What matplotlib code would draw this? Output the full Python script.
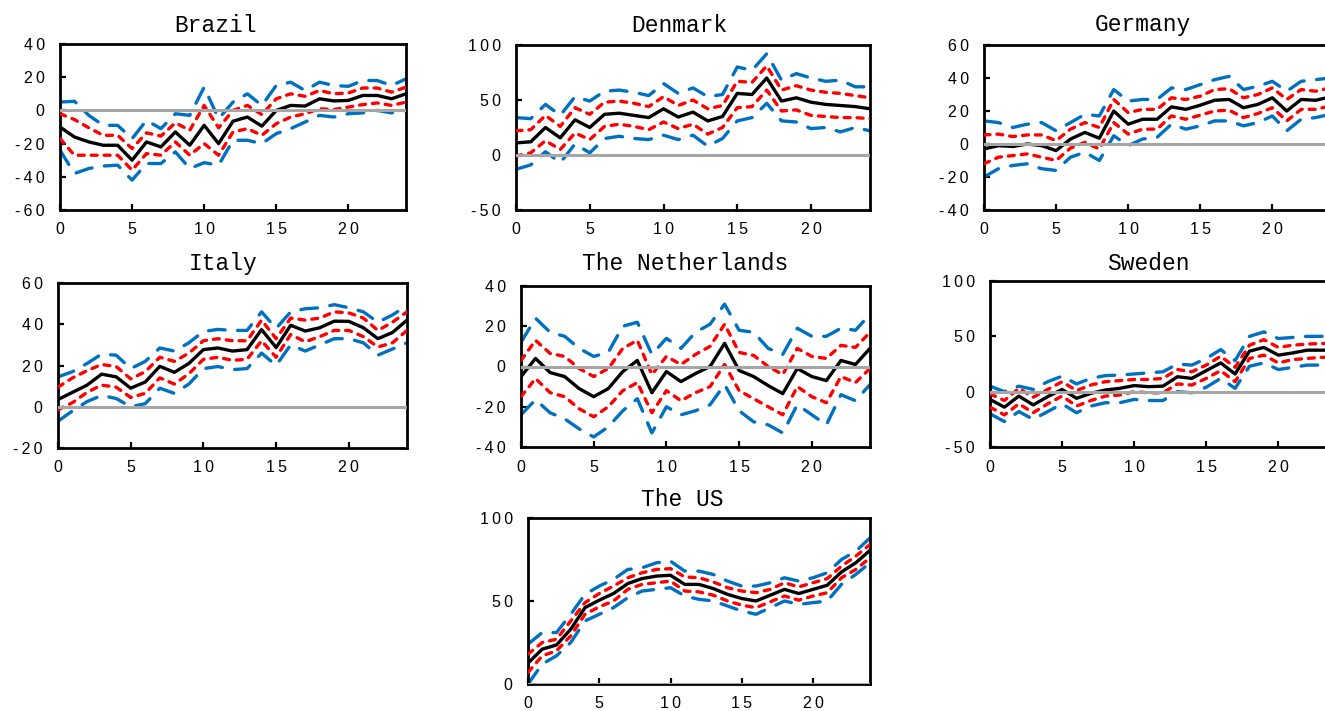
import matplotlib
matplotlib.use("Agg")
import matplotlib.pyplot as plt
import numpy as np

plt.rcParams['lines.scale_dashes'] = False

horizon = list(range(25))
x_ticks = [0, 5, 10, 15, 20]

# ---------------- data ----------------
brazil_mid = [-10, -16, -19, -21, -21, -30, -19, -22, -13, -21, -9, -20, -6.5, -4, -9.5, 0, 3, 2.6, 7, 5.7, 6, 9, 9, 7, 10]
brazil_up68 = [-2, -5.5, -10.5, -15, -15, -23, -13.5, -15.5, -7.5, -12, 3, -10.5, 0, 3, -2.5, 7, 10, 8.5, 12, 10, 10.5, 13.5, 13.5, 11, 14]
brazil_lo68 = [-17, -27, -27, -27, -27, -36, -26, -27, -19, -27, -20, -27, -13, -11, -15, -8, -4, -2, 1, 0.5, 2, 3.5, 4.5, 3, 5]
brazil_up95 = [5, 5.5, -3, -9, -9, -17, -6, -11, -2, -3, 14, -5, 5, 10, 3, 15, 17, 12, 17, 15, 14.5, 18, 18, 15, 19]
brazil_lo95 = [-24, -38, -35, -33.5, -33, -42, -32, -32, -25, -35, -31.5, -33, -18, -18, -20, -14, -11, -7, -3, -4, -2, -1.5, 0, -1.5, 0]

denmark_mid = [11, 12, 25, 15.6, 32, 25, 37, 38, 36, 34, 42, 34.5, 39, 31, 35, 56, 55, 70, 49, 52, 48, 46, 45, 44, 42]
denmark_up68 = [22, 23, 36, 26, 43, 37, 48, 49, 47, 44, 53, 45, 50, 42, 45, 67, 66, 81, 59, 63, 59, 57, 56, 54, 52]
denmark_lo68 = [-1, 2, 13, 5, 20, 14, 26, 28, 26, 23, 30, 24, 28, 19, 25, 43, 44, 59, 40, 41, 36, 35, 34, 34, 33]
denmark_up95 = [34, 33, 46, 36, 53, 49, 58, 59, 57, 54, 65, 56, 61, 53, 55, 80, 77, 92, 68, 74, 70, 67, 68, 62, 62]
denmark_lo95 = [-13, -9, 3, -7, 10, 2, 15, 17, 15, 14, 18, 14, 18, 8, 15, 31, 34, 47, 31, 30, 24, 25, 21, 25, 22]

germany_mid = [-3, -1, -1.5, 0, -1, -4, 3, 7, 3.5, 20, 12, 15, 15, 22.5, 21, 23.5, 26.5, 27, 22, 24, 28, 20, 27, 26.5, 28.5]
germany_up68 = [5.5, 6, 4.5, 5.5, 5.5, 2, 9, 13, 10, 27, 19, 21, 21, 28, 27, 29, 33, 33.5, 28, 30, 34, 27, 33, 32, 34]
germany_lo68 = [-12, -8, -7, -6, -8, -10, -2.5, 1, -3, 13, 6, 9, 9, 17, 15, 17.5, 20, 20.5, 16, 18.5, 22, 14, 21, 21, 23]
germany_up95 = [14, 13, 10, 12, 13, 8, 13, 18, 17, 33, 26, 27, 27, 34, 33, 36, 39, 41, 33, 35, 38, 32, 38, 39, 40]
germany_lo95 = [-20, -15, -13, -12, -15, -16, -8, -5, -10, 5, -1, 3, 4, 12, 9, 11, 14, 14, 11, 13, 17, 8, 15, 16, 18]

italy_mid = [3.5, 7, 10.5, 15.8, 14.5, 9, 12, 19.6, 16.7, 21, 27.7, 28.5, 27, 27.7, 37.4, 28.7, 39.5, 36.7, 38.3, 41.5, 41.4, 38.3, 33, 36, 42]
italy_up68 = [9.5, 14, 17.5, 20.5, 19.5, 13.5, 17, 24, 22, 26, 32, 33, 32, 32, 42, 33, 43, 42, 43, 46, 45.5, 43, 37, 41, 46]
italy_lo68 = [-1.5, 2, 7, 10.5, 9.5, 4.5, 6.5, 14, 11, 16, 23, 24, 22.5, 23, 32, 24, 35, 31.5, 34, 37, 37, 34, 29, 31, 37]
italy_up95 = [14.5, 17, 21, 25.5, 25, 18.5, 22, 28.5, 27, 31, 36.5, 37.5, 37, 37, 46, 38, 46, 47.5, 48, 49.5, 48, 46, 41, 44.5, 49]
italy_lo95 = [-7, -2, 2.5, 5.5, 4, 0, 1.5, 9, 6.5, 11, 18.5, 19.5, 18, 18.5, 26, 20, 30, 27, 30, 33, 33, 31, 25, 28, 31]

nl_mid = [-5, 4, -3, -5, -11, -15, -11, -2.5, 3, -13, -2.5, -7.5, -3.5, 0, 11.5, -2, -5, -9.5, -13.5, -1, -5, -7, 3, 1, 9]
nl_up68 = [3, 13, 6.5, 5, -1, -5, -1, 9, 13, -4, 5, 1, 6, 10, 21, 7, 5.5, 0, -4, 9, 5, 4, 10.5, 9.5, 17]
nl_lo68 = [-15, -6, -13, -15, -21, -25, -20, -12, -8, -23, -12, -17, -13, -10, 1, -12, -16, -20, -24, -10, -15, -18, -5, -8, -1]
nl_up95 = [12, 24, 17, 15, 9, 5, 7, 20, 22, 6, 14, 9, 17, 21, 31, 18, 17, 9, 6, 19, 15, 15, 19, 18, 26]
nl_lo95 = [-24, -16.5, -23, -26, -31, -35, -30, -22, -16, -33, -20, -24, -22, -19, -9, -22, -27.5, -29, -33, -19, -24, -29, -14, -17, -9]

sweden_mid = [-7, -14, -4, -12, -4.5, 2, -6, -1.5, 1.5, 3, 5.5, 4.5, 5, 13.5, 12, 19, 26, 16, 36.6, 40, 33, 35, 37.5, 37.5, 37.5]
sweden_up68 = [-2, -8, 3, -5, 2, 9, 1, 6, 9, 10, 11, 11, 12, 20, 18, 24, 32, 22, 42, 47, 40, 42, 43, 43.5, 44]
sweden_lo68 = [-14, -21, -11, -19, -11, -4, -13, -8, -4, -3, 0, -1, -1, 7, 6, 12, 19, 9, 30, 33, 26, 29, 30, 31, 31]
sweden_up95 = [5, 0, 5, 2, 9, 14, 7, 12, 14.5, 15, 16, 17, 18, 25, 24, 30, 38, 28, 50, 54, 48, 49, 50, 50, 51]
sweden_lo95 = [-20, -27, -18, -25, -18, -11, -19, -13, -10, -10, -7, -8, -8, 0, -1, 4, 12, 3, 23, 26, 20, 22, 24, 24, 25]

us_mid = [12.6, 21, 23.5, 33, 46, 50.5, 54.5, 60.5, 63.5, 65, 65.5, 60, 60, 57.5, 54, 51.5, 50, 53.5, 57, 54.5, 57, 59.5, 67.5, 73, 80.5]
us_up68 = [18, 25, 27, 38, 49, 54.5, 59, 64, 67, 69, 69.5, 64.5, 64, 61.5, 58, 56, 55, 57, 61, 58.5, 61, 63.5, 71, 77, 84]
us_lo68 = [7, 17, 20, 29, 42, 46.5, 50, 57, 60, 61, 62, 56, 55.5, 53.5, 50, 47.5, 46, 49.5, 53, 50.5, 53, 55, 64, 69, 76]
us_up95 = [24, 31, 31, 42, 54, 59, 63, 69, 70, 73, 74, 68, 68, 66, 62, 59, 59, 61, 64, 62, 64, 67, 75, 80, 88]
us_lo95 = [0, 12, 17, 25, 38, 42, 46, 52, 56, 57, 58, 53, 51, 50, 47, 44, 42, 46, 50, 48, 49, 50, 60, 66, 73]

titles = ["Brazil", "Denmark", "Germany", "Italy", "The Netherlands", "Sweden", "The US"]
mids = [brazil_mid, denmark_mid, germany_mid, italy_mid, nl_mid, sweden_mid, us_mid]
up68 = [brazil_up68, denmark_up68, germany_up68, italy_up68, nl_up68, sweden_up68, us_up68]
lo68 = [brazil_lo68, denmark_lo68, germany_lo68, italy_lo68, nl_lo68, sweden_lo68, us_lo68]
up95 = [brazil_up95, denmark_up95, germany_up95, italy_up95, nl_up95, sweden_up95, us_up95]
lo95 = [brazil_lo95, denmark_lo95, germany_lo95, italy_lo95, nl_lo95, sweden_lo95, us_lo95]
y_ranges = [(-60, 40, 20), (-50, 100, 50), (-40, 60, 20), (-20, 60, 20), (-40, 40, 20), (-50, 100, 50), (0, 100, 50)]

# ---------------- layout (pixels) ----------------
W, H = 1325, 711
# left, right, top, bottom of plot areas
boxes = [(60, 406, 44, 210), (516, 870, 45, 210), (984, 1330, 45, 210),
         (58, 407, 283, 448), (521, 870, 286, 447), (990, 1336, 281, 447),
         (528, 870, 518, 684)]
title_pos = [(216, 25), (679, 25), (1143, 25), (223, 263), (685, 263), (1148, 263), (682, 500)]

BLUE = "#0070C0"
RED = "#FF0000"
GRAY = "#A6A6A6"

fig = plt.figure(figsize=(W / 100, H / 100), dpi=100)


def spaced(v):
    s = f"{int(v)}"
    return "\u2009".join(list(s))


for i in range(7):
    l, r, t, b = boxes[i]
    ax = fig.add_axes([l / W, 1 - b / H, (r - l) / W, (b - t) / H])
    kw_b = dict(color=BLUE, lw=2.4, dashes=(12, 9), dash_capstyle="round", zorder=2)
    kw_r = dict(color=RED, lw=2.4, dashes=(4.3, 5), dash_capstyle="round", zorder=3)
    ax.plot(horizon, up95[i], **kw_b)
    ax.plot(horizon, lo95[i], **kw_b)
    ax.plot(horizon, up68[i], **kw_r)
    ax.plot(horizon, lo68[i], **kw_r)
    ax.plot(horizon, mids[i], color="black", lw=2.4, solid_capstyle="round",
            solid_joinstyle="round", zorder=4)
    ax.axhline(0, color=GRAY, lw=2.2, zorder=5)
    lo, hi, step = y_ranges[i]
    ax.set_xlim(0, 24)
    ax.set_ylim(lo, hi)
    yt = np.arange(lo, hi + step / 2, step)
    ax.set_yticks(yt)
    ax.set_yticklabels([spaced(v) for v in yt])
    ax.set_xticks(x_ticks)
    ax.set_xticklabels([spaced(v) for v in x_ticks])
    for sp in ax.spines.values():
        sp.set_linewidth(2.0)
    ax.tick_params(axis="both", direction="in", length=4, width=1.6,
                   labelsize=11.5, colors="black")
    ax.tick_params(axis="y", pad=11)
    ax.tick_params(axis="x", pad=9)
    for lab in ax.get_xticklabels() + ax.get_yticklabels():
        lab.set_family(["Liberation Sans", "DejaVu Sans"])
    tx, ty = title_pos[i]
    fig.text(tx / W, 1 - ty / H, titles[i], ha="center", va="center",
             family=["Liberation Mono", "DejaVu Sans Mono"], fontsize=16.5)

fig.savefig("out.png", dpi=100)
